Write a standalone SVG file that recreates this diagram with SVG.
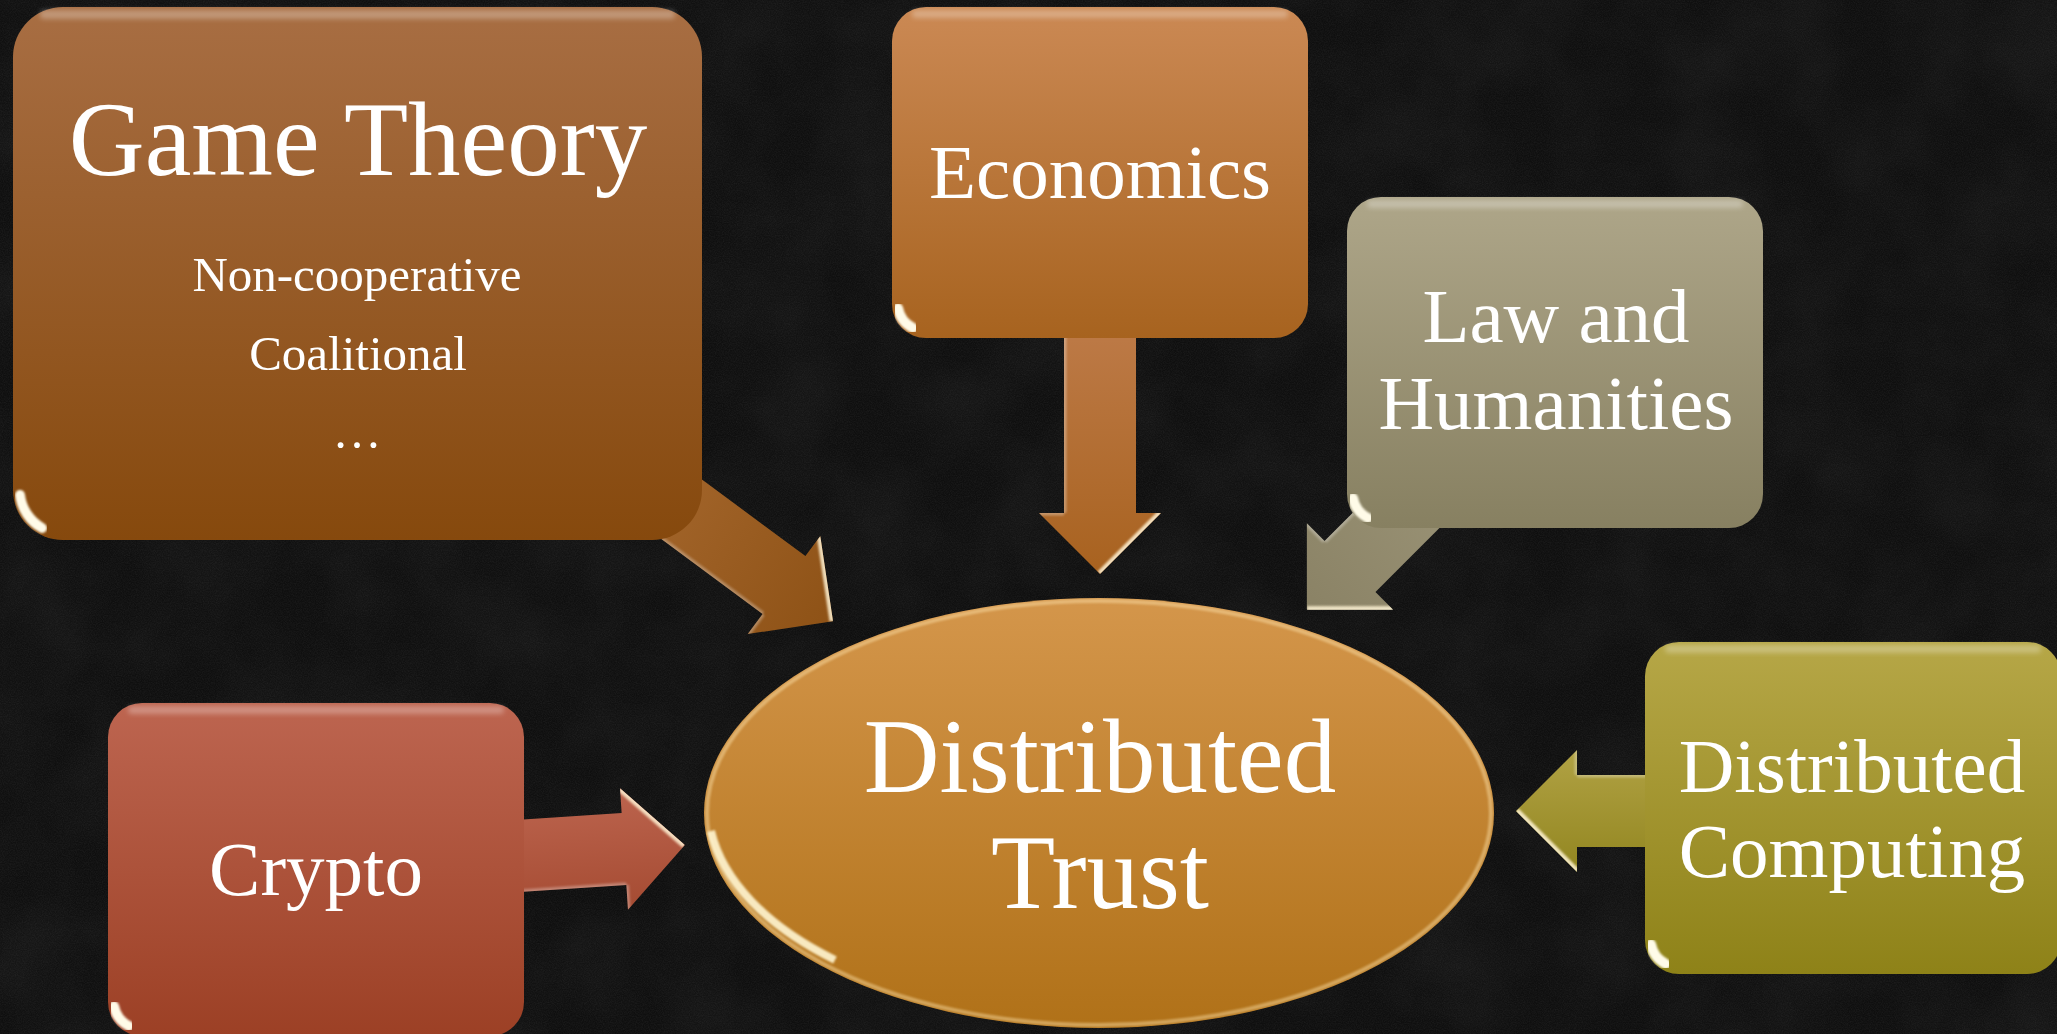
<svg xmlns="http://www.w3.org/2000/svg" xmlns:xlink="http://www.w3.org/1999/xlink" width="2057" height="1034" viewBox="0 0 2057 1034">
  <style>
    .label { fill: #ffffff; font-family: "Liberation Serif", "Times New Roman", serif; text-anchor: middle; }
    .big { font-size: 105px; }
    .mid { font-size: 77px; }
    .small { font-size: 49px; }
    .gloss-top { fill: #ffffff; opacity: 0.28; filter: url(#soft2); }
    .rim { fill: none; stroke: #ffffff; stroke-width: 3; opacity: 0.35; filter: url(#soft1); }
    .glint { fill: none; stroke: #fffbe8; stroke-width: 10; stroke-linecap: round; opacity: 1; filter: url(#soft1); }
    .bevel-hi { fill: none; stroke: #fff4d6; stroke-width: 7; opacity: 0.85; filter: url(#soft1); }
    .bevel-lo { fill: none; stroke: #ffffff; stroke-width: 5; opacity: 0.3; filter: url(#soft1); }
  </style>
  <defs>
    <filter id="soft1" x="-20%" y="-20%" width="140%" height="140%"><feGaussianBlur stdDeviation="1.2"/></filter>
    <filter id="soft2" x="-20%" y="-50%" width="140%" height="200%"><feGaussianBlur stdDeviation="2.5"/></filter>
    <filter id="grain" x="0" y="0" width="100%" height="100%">
      <feTurbulence type="fractalNoise" baseFrequency="0.85" numOctaves="2" seed="7" result="n"/>
      <feColorMatrix in="n" type="matrix" values="0 0 0 0 1  0 0 0 0 1  0 0 0 0 1  0.09 0 0 0 -0.03"/>
    </filter>
    <filter id="mottle" x="0" y="0" width="100%" height="100%">
      <feTurbulence type="fractalNoise" baseFrequency="0.012" numOctaves="3" seed="2" result="m"/>
      <feColorMatrix in="m" type="matrix" values="0 0 0 0 1  0 0 0 0 1  0 0 0 0 1  0.06 0 0 0 -0.02"/>
    </filter>

    <!-- box fills, light at top to deeper at bottom -->
    <linearGradient id="gGT" x1="0" y1="0" x2="0" y2="1"><stop offset="0" stop-color="#a86e43"/><stop offset="1" stop-color="#86490d"/></linearGradient>
    <linearGradient id="gEcon" x1="0" y1="0" x2="0" y2="1"><stop offset="0" stop-color="#cb8954"/><stop offset="1" stop-color="#a7631f"/></linearGradient>
    <linearGradient id="gLaw" x1="0" y1="0" x2="0" y2="1"><stop offset="0" stop-color="#aea689"/><stop offset="1" stop-color="#878061"/></linearGradient>
    <linearGradient id="gDC" x1="0" y1="0" x2="0" y2="1"><stop offset="0" stop-color="#b6a747"/><stop offset="1" stop-color="#8e8218"/></linearGradient>
    <linearGradient id="gCrypto" x1="0" y1="0" x2="0" y2="1"><stop offset="0" stop-color="#bd6550"/><stop offset="1" stop-color="#9c4025"/></linearGradient>
    <linearGradient id="gTrust" x1="0" y1="0" x2="0" y2="1"><stop offset="0" stop-color="#d4964b"/><stop offset="1" stop-color="#b07118"/></linearGradient>

    <!-- arrow fills (in each arrow's local frame) -->
    <linearGradient id="aGT" x1="0" y1="0" x2="1" y2="0"><stop offset="0" stop-color="#a5672d"/><stop offset="1" stop-color="#8e5216"/></linearGradient>
    <linearGradient id="aEcon" x1="0" y1="0" x2="1" y2="0"><stop offset="0" stop-color="#bd7a47"/><stop offset="1" stop-color="#a8621f"/></linearGradient>
    <linearGradient id="aLaw" x1="0" y1="0" x2="1" y2="0"><stop offset="0" stop-color="#9f987b"/><stop offset="1" stop-color="#8a8265"/></linearGradient>
    <linearGradient id="aCrypto" x1="0" y1="0" x2="0" y2="1"><stop offset="0" stop-color="#bc644e"/><stop offset="1" stop-color="#a54b32"/></linearGradient>
    <linearGradient id="aDC" x1="0" y1="1" x2="0" y2="0"><stop offset="0" stop-color="#b1a244"/><stop offset="1" stop-color="#928620"/></linearGradient>

    <!-- block arrow pointing along +x, head base at the origin -->
    <path id="arrowShape" d="M -185 -36 H 0 V -61 L 61 0 L 0 61 V 36 H -185 Z"/>
    <clipPath id="arrowClip"><use xlink:href="#arrowShape"/></clipPath>
    <clipPath id="trustClip"><ellipse cx="1099" cy="813" rx="395" ry="215"/></clipPath>
  </defs>

  <!-- backdrop -->
  <rect width="2057" height="1034" fill="#0f0f0f"/>
  <rect width="2057" height="1034" filter="url(#mottle)"/>
  <rect width="2057" height="1034" filter="url(#grain)"/>

  <g id="connectors">
    <g id="arrow-game-theory" transform="translate(784 585) rotate(36.5)">
      <use xlink:href="#arrowShape" fill="url(#aGT)"/>
      <g clip-path="url(#arrowClip)">
        <path class="bevel-hi" d="M 0 -61 L 61 0"/>
        <path class="bevel-lo" d="M 0 36 V 61 M -185 36 H 0"/>
      </g>
    </g>
    <g id="arrow-economics" transform="translate(1100 513) rotate(90)">
      <use xlink:href="#arrowShape" fill="url(#aEcon)"/>
      <g clip-path="url(#arrowClip)">
        <path class="bevel-hi" d="M 0 -61 L 61 0"/>
        <path class="bevel-lo" d="M 0 36 V 61 M -185 36 H 0"/>
      </g>
    </g>
    <g id="arrow-law" transform="translate(1350 566.5) rotate(135)">
      <use xlink:href="#arrowShape" fill="url(#aLaw)"/>
      <g clip-path="url(#arrowClip)">
        <path class="bevel-hi" d="M 0 -61 L 61 0"/>
        <path class="bevel-lo" d="M 0 36 V 61 M -185 36 H 0"/>
      </g>
    </g>
    <g id="arrow-crypto" transform="translate(624 849) rotate(-3.75)">
      <use xlink:href="#arrowShape" fill="url(#aCrypto)"/>
      <g clip-path="url(#arrowClip)">
        <path class="bevel-hi" d="M 0 -61 L 61 0"/>
        <path class="bevel-lo" d="M 0 36 V 61 M -185 36 H 0"/>
      </g>
    </g>
    <g id="arrow-distributed-computing" transform="translate(1577 811) rotate(180)">
      <use xlink:href="#arrowShape" fill="url(#aDC)"/>
      <g clip-path="url(#arrowClip)">
        <path class="bevel-hi" d="M 0 -61 L 61 0"/>
        <path class="bevel-lo" d="M 0 36 V 61 M -185 36 H 0"/>
      </g>
    </g>
  </g>

  <g id="node-game-theory">
    <rect x="13" y="7" width="689" height="533" rx="50" fill="url(#gGT)"/>
    <rect class="gloss-top" x="40" y="10" width="635" height="9" rx="4"/>
    <path class="rim" d="M 699 57 V 490"/>
    <path class="glint" d="M 20 495 A 44 44 0 0 0 42 528"/>
    <text class="label big" x="358" y="175">Game Theory</text>
    <text class="label small" x="357" y="291">Non-cooperative</text>
    <text class="label small" x="358" y="370">Coalitional</text>
    <text class="label small" x="357" y="448">…</text>
  </g>

  <g id="node-economics">
    <rect x="892" y="7" width="416" height="331" rx="34" fill="url(#gEcon)"/>
    <rect class="gloss-top" x="912" y="10" width="376" height="8" rx="4"/>
    <path class="rim" d="M 1305 41 V 304"/>
    <path class="glint" d="M 898 308 A 28 28 0 0 0 913 328"/>
    <text class="label mid" x="1100" y="198">Economics</text>
  </g>

  <g id="node-law">
    <rect x="1347" y="197" width="416" height="331" rx="34" fill="url(#gLaw)"/>
    <rect class="gloss-top" x="1367" y="200" width="376" height="8" rx="4"/>
    <path class="rim" d="M 1760 231 V 494"/>
    <path class="glint" d="M 1353 498 A 28 28 0 0 0 1368 518"/>
    <text class="label mid" x="1556" y="342">Law and</text>
    <text class="label mid" x="1556" y="429">Humanities</text>
  </g>

  <g id="node-crypto">
    <rect x="108" y="703" width="416" height="333" rx="34" fill="url(#gCrypto)"/>
    <rect class="gloss-top" x="128" y="706" width="376" height="8" rx="4"/>
    <path class="rim" d="M 521 737 V 1000"/>
    <path class="glint" d="M 114 1006 A 28 28 0 0 0 129 1026"/>
    <text class="label mid" x="316" y="895">Crypto</text>
  </g>

  <g id="node-distributed-computing">
    <rect x="1645" y="642" width="416" height="332" rx="34" fill="url(#gDC)"/>
    <rect class="gloss-top" x="1665" y="645" width="376" height="8" rx="4"/>
    <path class="glint" d="M 1651 944 A 28 28 0 0 0 1666 964"/>
    <text class="label mid" x="1852" y="792">Distributed</text>
    <text class="label mid" x="1852" y="877">Computing</text>
  </g>

  <g id="node-distributed-trust">
    <ellipse cx="1099" cy="813" rx="395" ry="215" fill="url(#gTrust)"/>
    <g clip-path="url(#trustClip)">
      <ellipse cx="1099" cy="813" rx="392" ry="212" fill="none" stroke="#ffe6b0" stroke-width="4" opacity="0.45" filter="url(#soft1)"/>
      <path d="M 711 831 A 390 210 0 0 0 835 960" fill="none" stroke="#fff6d2" stroke-width="8" opacity="0.9" filter="url(#soft1)"/>
    </g>
    <text class="label big" x="1100" y="792">Distributed</text>
    <text class="label big" x="1100" y="908">Trust</text>
  </g>
</svg>
